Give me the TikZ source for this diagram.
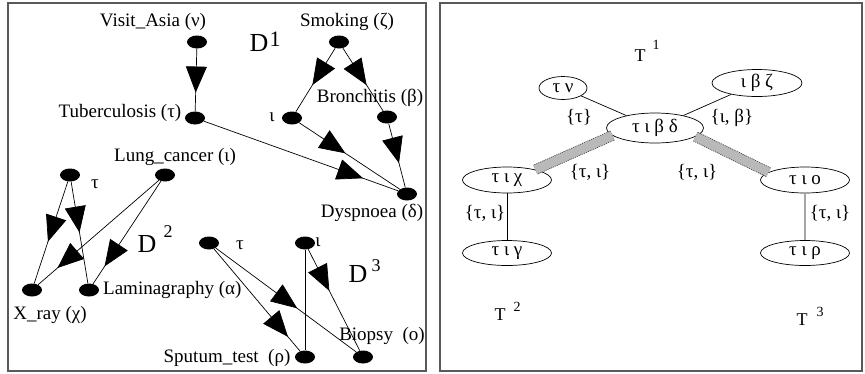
\documentclass[tikz,border=0pt]{standalone}
\usepackage{fontspec}
\setmainfont{Liberation Serif}
\usetikzlibrary{arrows.meta,shapes.geometric,decorations.markings}
\tikzset{
  every node/.style={font=\fontsize{19}{21}\selectfont, inner sep=0pt},
  panel/.style={draw=gray!70!black, line width=1.2pt},
  var/.style={ellipse, fill=black, minimum width=20pt, minimum height=13pt},
  clique/.style={ellipse, draw=black, line width=0.7pt, fill=white, minimum width=89pt, minimum height=26pt},
  tie/.style={draw=black, line width=0.7pt},
  causal/.style={tie, postaction={decorate},
    decoration={markings, mark=at position #1 with {\arrow{Triangle[length=26pt,width=21pt]}}}},
  causal/.default=0.5,
  sepbar/.style={line width=9pt, draw=gray!55,
    preaction={draw=gray!50!black, line width=10.5pt, dash pattern=on 1.2pt off 0.8pt}},
  bigD/.style={font=\fontsize{26}{28}\selectfont},
  supr/.style={font=\fontsize{#1}{#1}\selectfont},
}

\begin{document}
\begin{tikzpicture}[x=1pt, y=-1pt]
  \useasboundingbox (0,0) rectangle (865,373);
  % Left panel: the three networks D1, D2, D3
  \draw[panel] (8,3) rectangle (426,371);
  % D1
  \node[var] (va) at (197,42) {};
  \node[var] (sm) at (339,42) {};
  \node[var] (tb) at (195,118) {};
  \node[var] (lc) at (292,118) {};
  \node[var] (br) at (387,117) {};
  \node[var] (dy) at (407,194) {};
  \node (vaname) at (153,22) {Visit\_Asia (ν)};
  \node (smname) at (347,22) {Smoking (ζ)};
  \node (tbname) at (120,113) {Tuberculosis (τ)};
  \node (lcname) at (272,117) {ι};
  \node (brname) at (370,98) {Bronchitis (β)};
  \node (dyname) at (372,213) {Dyspnoea (δ)};
  \node[bigD] (dA) at (259,43) {D};
  \node[supr=22] (dAsup) at (275,39) {1};
  \draw[causal=0.7] (va) -- (tb);
  \draw[causal=0.58] (sm) -- (lc);
  \draw[causal=0.59] (sm) -- (br);
  \draw[causal=0.46] (lc) -- (dy);
  \draw[causal=0.62] (br) -- (dy);
  \draw[causal=0.82] (tb) -- (dy);
  % D2
  \node[var] (tb2) at (70,175) {};
  \node[var] (lc2) at (165,175) {};
  \node[var] (xr) at (32,290) {};
  \node[var] (lm) at (89,290) {};
  \node (tb2name) at (95,184) {τ};
  \node (lc2name) at (175,157) {Lung\_cancer (ι)};
  \node (xrname) at (50,315) {X\_ray (χ)};
  \node[anchor=west] (lmname) at (103,290) {Laminagraphy (α)};
  \node[bigD] (dB) at (147,244) {D};
  \node[supr=18] (dBsup) at (168,232) {2};
  \draw[causal=0.59] (tb2) -- (xr);
  \draw[causal=0.5] (tb2) -- (lm);
  \draw[causal=0.84] (lc2) -- (xr);
  \draw[causal=0.83] (lc2) -- (lm);
  % D3
  \node[var] (tb3) at (209,243) {};
  \node[var] (lc3) at (305,243) {};
  \node[var] (sp) at (305,357) {};
  \node[var] (bi) at (363,357) {};
  \node (tb3name) at (240,245) {τ};
  \node (lc3name) at (318,242) {ι};
  \node (spname) at (227,358) {Sputum\_test~ (ρ)};
  \node (biname) at (382,336) {Biopsy~ (ο)};
  \node[bigD] (dC) at (358,274) {D};
  \node[supr=18] (dCsup) at (376,266) {3};
  \draw[causal=0.86] (tb3) -- (sp);
  \draw[causal=0.58] (tb3) -- (bi);
  \draw[causal=0.41] (lc3) -- (bi);
  \draw[tie] (lc3) -- (sp);

  % Right panel: the junction trees T1, T2, T3
  \draw[panel] (440,3) rectangle (862,371);
  \node[clique, minimum width=48pt, minimum height=23pt] (tn) at (563,88) {τ ν};
  \node[clique, minimum width=90pt, minimum height=27pt] (ibz) at (757,83) {ι β ζ};
  \node[clique, minimum width=97pt, minimum height=30pt] (tibd) at (655,128) {τ ι β δ};
  \node[clique] (tic) at (507,180) {τ ι χ};
  \node[clique] (tio) at (805,180) {τ ι ο};
  \node[clique, minimum height=25pt] (tig) at (507,253) {τ ι γ};
  \node[clique, minimum height=25pt] (tir) at (805,253) {τ ι ρ};
  \draw[tie] (tn) -- (tibd);
  \draw[tie] (ibz) -- (tibd);
  \draw[sepbar] (tibd.190) -- (tic.20);
  \draw[sepbar] (tibd.-12) -- (tio.168);
  \draw[tie] (tic) -- (tig);
  \draw[draw=gray!70, line width=1.2pt] (tio) -- (tir);
  \node (sepA) at (579,117) {\{τ\}};
  \node (sepB) at (732,118) {\{ι, β\}};
  \node (sepC) at (590,172) {\{τ, ι\}};
  \node (sepD) at (697,172) {\{τ, ι\}};
  \node (sepE) at (485,213) {\{τ, ι\}};
  \node (sepF) at (830,213) {\{τ, ι\}};
  \node[supr=18] (tA) at (640,56) {T};
  \node[supr=14] (tAsup) at (656,45) {1};
  \node[supr=18] (tB) at (500,315) {T};
  \node[supr=14] (tBsup) at (517,307) {2};
  \node[supr=18] (tC) at (802,320) {T};
  \node[supr=14] (tCsup) at (820,312) {3};
\end{tikzpicture}
\end{document}
